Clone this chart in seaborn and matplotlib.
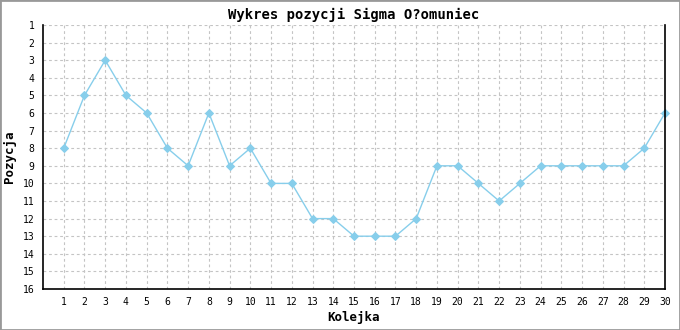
import matplotlib
matplotlib.use("Agg")
import matplotlib.pyplot as plt
import seaborn as sns
import pandas as pd
from matplotlib.patches import Rectangle

rounds = list(range(1, 31))
positions = [8, 5, 3, 5, 6, 8, 9, 6, 9, 8, 10, 10, 12, 12, 13, 13, 13, 12, 9, 9,
             10, 11, 10, 9, 9, 9, 9, 9, 8, 6]
title = "Wykres pozycji Sigma O?omuniec"
xlabel = "Kolejka"
ylabel = "Pozycja"

sns.set_style("white")
plt.rcParams['font.family'] = ['DejaVu Sans Mono']
plt.rcParams['text.color'] = 'black'
plt.rcParams['xtick.color'] = 'black'
plt.rcParams['ytick.color'] = 'black'
plt.rcParams['axes.labelcolor'] = 'black'

df = pd.DataFrame({"Kolejka": rounds, "Pozycja": positions})

fig = plt.figure(figsize=(6.8, 3.3), dpi=100)
ax = fig.add_axes([43/680, 1-289/330, (665-43)/680, (289-25)/330])

sns.lineplot(data=df, x="Kolejka", y="Pozycja", ax=ax, color="#87CEEB",
             linewidth=1, marker="D", markersize=4, markeredgecolor="#87CEEB",
             markerfacecolor="#87CEEB", clip_on=False)

ax.set_xlim(0, 30)
ax.set_ylim(16, 1)
ax.set_xticks(rounds)
ax.set_yticks(range(1, 17))
ax.tick_params(axis='x', labelsize=7, length=4, direction='inout', width=1, color='black', pad=4)
ax.tick_params(axis='y', labelsize=7, length=0, pad=6)
ax.grid(True, color="#c4c4c4", linestyle=(0, (2.5, 2.5)), linewidth=0.8)
ax.set_axisbelow(True)
for s in ["left", "bottom", "right"]:
    ax.spines[s].set_color("black")
    ax.spines[s].set_linewidth(1.2)
ax.spines["top"].set_visible(False)

ax.set_title(title, fontsize=10, fontweight="bold", pad=4)
ax.set_xlabel(xlabel, fontsize=9, fontweight="bold", labelpad=3)
ax.set_ylabel(ylabel, fontsize=9, fontweight="bold", labelpad=5)

fig.patches.append(Rectangle((0, 0), 1, 1, transform=fig.transFigure, fill=False,
                             edgecolor="#999999", linewidth=2))
fig.savefig("out.png", dpi=100)
